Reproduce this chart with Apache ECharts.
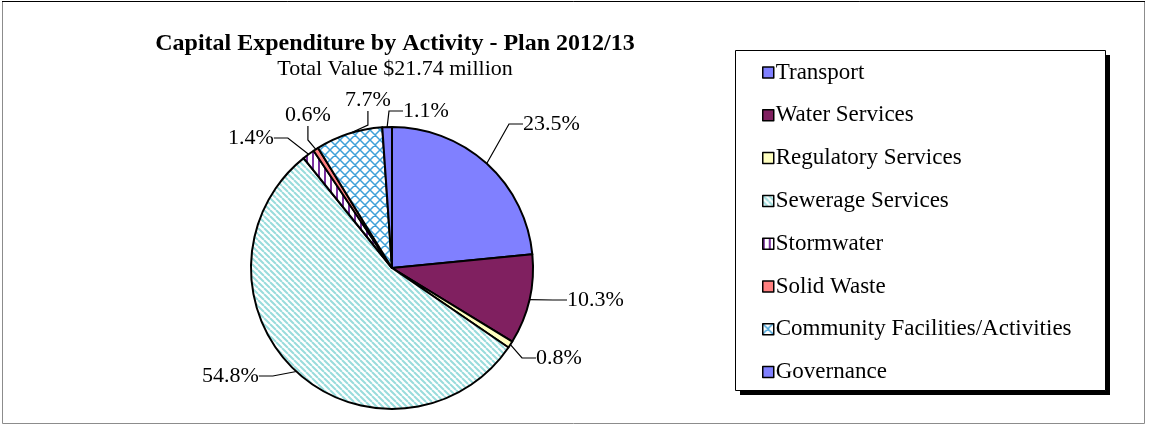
<!DOCTYPE html>
<html>
<head>
<meta charset="utf-8">
<script src="https://cdn.jsdelivr.net/npm/echarts@6/dist/echarts.min.js"></script>
<style>
  html, body { margin: 0; padding: 0; background: #fff; }
  #chart { width: 1149px; height: 426px; }
</style>
</head>
<body>
<div id="chart"></div>
<script>
// Capital expenditure shares by activity (percent of total)
const categories = [
  'Transport', 'Water Services', 'Regulatory Services', 'Sewerage Services',
  'Stormwater', 'Solid Waste', 'Community Facilities/Activities', 'Governance'
];
const shares = [23.5, 10.3, 0.8, 54.8, 1.4, 0.6, 7.7, 1.1];
const titleText = 'Capital Expenditure by Activity - Plan 2012/13';
const subtitleText = 'Total Value $21.74 million';

const FONT = '"Liberation Serif", "Times New Roman", serif';

// Where each percentage label sits (left edge, vertical middle), in slice order
const labelSpots = [
  [523, 124], [567, 300], [536, 358], [202, 376],
  [228, 138], [285, 115], [345, 100], [403, 111]
];

// Build small repeating fill tiles for the hatched slices
function makeTile(size, draw) {
  const c = document.createElement('canvas');
  c.width = size; c.height = size;
  const ctx = c.getContext('2d');
  ctx.fillStyle = '#ffffff';
  ctx.fillRect(0, 0, size, size);
  draw(ctx, size);
  return { image: c, repeat: 'repeat' };
}

// diagonal "\" stripes, light teal
const sewerFill = makeTile(6, (ctx, s) => {
  ctx.strokeStyle = '#99dcdc';
  ctx.lineWidth = 2;
  ctx.beginPath();
  for (let k = -1; k <= 1; k++) {
    ctx.moveTo(k * s, 0);
    ctx.lineTo(k * s + s, s);
  }
  ctx.stroke();
});

// vertical purple stripes
const stormFill = makeTile(6, (ctx, s) => {
  ctx.fillStyle = '#7a2fa0';
  ctx.fillRect(0, 0, 2, s);
});

// blue diagonal crosshatch
const communityFill = makeTile(10, (ctx, s) => {
  ctx.strokeStyle = '#3fa0d8';
  ctx.lineWidth = 1.5;
  ctx.beginPath();
  for (let k = -1; k <= 1; k++) {
    ctx.moveTo(k * s, 0);
    ctx.lineTo(k * s + s, s);
    ctx.moveTo(k * s + s, 0);
    ctx.lineTo(k * s, s);
  }
  ctx.stroke();
});

const sliceFills = [
  '#8080ff', '#802060', '#ffffc0', sewerFill,
  stormFill, '#ff8080', communityFill, '#8080ff'
];

const chart = echarts.init(document.getElementById('chart'), null, { renderer: 'canvas' });

const option = {
  animation: false,
  backgroundColor: '#ffffff',
  title: [
    {
      text: titleText,
      left: 390, top: 27, textAlign: 'center',
      textStyle: { fontFamily: FONT, fontSize: 24, fontWeight: 'bold', color: '#000' }
    },
    {
      text: subtitleText,
      left: 390, top: 53, textAlign: 'center',
      textStyle: { fontFamily: FONT, fontSize: 22, fontWeight: 'normal', color: '#000' }
    }
  ],
  legend: {
    orient: 'vertical',
    left: 762,
    top: 61,
    padding: 0,
    itemWidth: 11,
    itemHeight: 11,
    itemGap: 19.8,
    icon: 'rect',
    itemStyle: { borderColor: '#000', borderWidth: 1.5 },
    textStyle: { fontFamily: FONT, fontSize: 23, color: '#000', lineHeight: 22, padding: [0, 0, 0, -3] },
    data: categories
  },
  graphic: [
    // outer frame of the chart area
    { type: 'rect', shape: { x: 2.5, y: 1.5, width: 1142, height: 422 },
      style: { fill: null, stroke: '#8c8c8c', lineWidth: 1 }, z: 0 },
    { type: 'line', shape: { x1: 2, y1: 1.5, x2: 1145, y2: 1.5 },
      style: { stroke: '#000', lineWidth: 1 }, z: 0 },
    // legend box with drop shadow
    { type: 'rect', shape: { x: 740, y: 55, width: 370, height: 340 },
      style: { fill: '#000' }, z: 0 },
    { type: 'rect', shape: { x: 735.5, y: 50.5, width: 370, height: 340 },
      style: { fill: '#fff', stroke: '#000', lineWidth: 1 }, z: 0 }
  ],
  series: [
    {
      type: 'pie',
      center: [392, 268],
      radius: [0, 141],
      startAngle: 90,
      clockwise: true,
      avoidLabelOverlap: false,
      z: 2,
      itemStyle: { borderColor: '#000', borderWidth: 2 },
      label: {
        show: true,
        position: 'outside',
        formatter: p => p.value.toFixed(1) + '%',
        fontFamily: FONT,
        fontSize: 22,
        color: '#000'
      },
      labelLine: {
        show: true,
        length: 18,
        length2: 14,
        lineStyle: { color: '#000', width: 1.2 }
      },
      labelLayout: params => {
        const spot = labelSpots[params.dataIndex];
        return { x: spot[0], y: spot[1], align: 'left', verticalAlign: 'middle' };
      },
      emphasis: { disabled: true },
      data: categories.map((name, i) => ({
        name,
        value: shares[i],
        itemStyle: { color: sliceFills[i] }
      }))
    }
  ]
};

chart.setOption(option);
</script>
</body>
</html>
